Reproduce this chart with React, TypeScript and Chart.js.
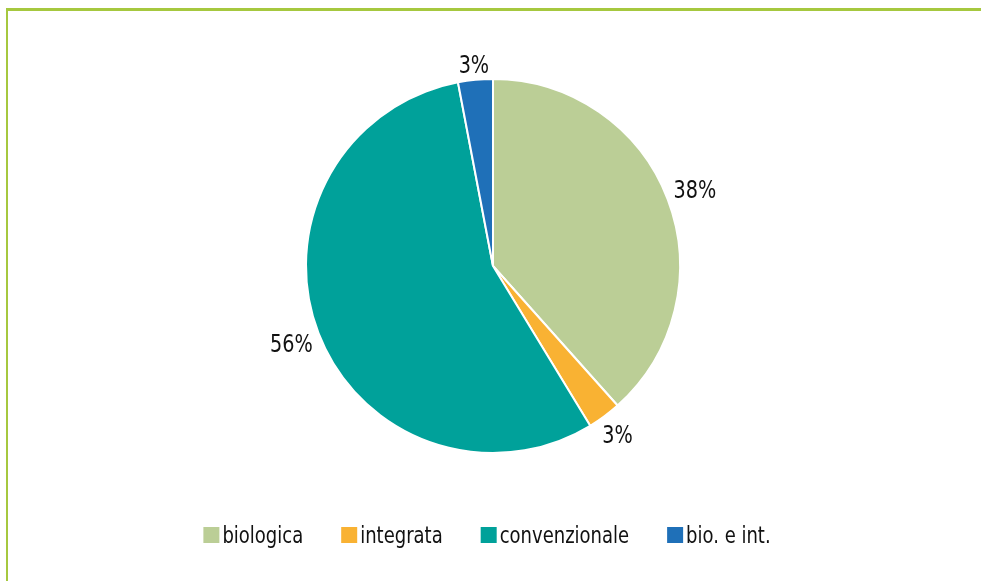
import React, { useEffect, useRef } from "react";
import { Chart, registerables } from "chart.js";

Chart.register(...registerables);

const categories = ["biologica", "integrata", "convenzionale", "bio. e int."];
const shares = [38.4, 2.9, 55.7, 3.0];
const colors = ["#BBCE96", "#F9B233", "#00A19A", "#1F70B8"];

const FONT = "'DejaVu Sans', 'Noto Sans', sans-serif";
const LABEL_SIZE = 24;
const LEGEND_SIZE = 22.5;
const TARGET_RATIO = 0.8; // glyph width relative to regular DejaVu Sans

// set the font (condensed when available) and return the horizontal scale to apply
function setFont(ctx: any, size: number): number {
  ctx.font = `${size}px ${FONT}`;
  const full = ctx.measureText("biologica 38%").width;
  try {
    ctx.fontStretch = "condensed";
  } catch (e) {
    /* ignore */
  }
  const cond = ctx.measureText("biologica 38%").width;
  return (TARGET_RATIO * full) / cond;
}

function drawText(ctx: any, text: string, x: number, y: number, sx: number) {
  ctx.save();
  ctx.translate(x, y);
  ctx.scale(sx, 1);
  ctx.fillText(text, 0, 0);
  ctx.restore();
}

const outsideLabels = {
  id: "outsideLabels",
  afterDatasetsDraw(chart: any) {
    const ctx = chart.ctx;
    const meta = chart.getDatasetMeta(0);
    const data = chart.data.datasets[0].data as number[];
    const total = data.reduce((a, b) => a + b, 0);
    ctx.save();
    const sx = setFont(ctx, LABEL_SIZE);
    ctx.fillStyle = "#111111";
    ctx.textAlign = "left";
    ctx.textBaseline = "alphabetic";
    const capH = LABEL_SIZE * 0.73;
    meta.data.forEach((arc: any, i: number) => {
      const { x, y, startAngle, endAngle, outerRadius } = arc.getProps(
        ["x", "y", "startAngle", "endAngle", "outerRadius"],
        true
      );
      const mid = (startAngle + endAngle) / 2;
      const text = Math.round((data[i] / total) * 100) + "%";
      const w = ctx.measureText(text).width * sx;
      const c = Math.cos(mid);
      const s = Math.sin(mid);
      const d = outerRadius + 6 + (Math.abs(c) * w) / 2 + (Math.abs(s) * capH) / 2;
      drawText(ctx, text, x + c * d - w / 2, y + s * d + capH / 2, sx);
    });
    ctx.restore();
  },
};

const customLegend = {
  id: "customLegend",
  afterDraw(chart: any) {
    const ctx = chart.ctx;
    const labels = chart.data.labels as string[];
    const bg = chart.data.datasets[0].backgroundColor as string[];
    const box = 16;
    const boxGap = 3;
    const itemGap = 38;
    const centerX = 487;
    const boxTop = 527;
    ctx.save();
    const sx = setFont(ctx, LEGEND_SIZE);
    ctx.textBaseline = "alphabetic";
    ctx.textAlign = "left";
    const widths = labels.map((l) => ctx.measureText(l).width * sx);
    const total =
      widths.reduce((a, w) => a + box + boxGap + w, 0) + itemGap * (labels.length - 1);
    let x = centerX - total / 2;
    labels.forEach((l, i) => {
      ctx.fillStyle = bg[i];
      ctx.fillRect(x, boxTop, box, box);
      ctx.fillStyle = "#111111";
      drawText(ctx, l, x + box + boxGap, boxTop + box, sx);
      x += box + boxGap + widths[i] + itemGap;
    });
    ctx.restore();
  },
};

export default function App() {
  const ref = useRef<HTMLCanvasElement | null>(null);
  useEffect(() => {
    if (!ref.current) return;
    const chart = new Chart(ref.current, {
      type: "pie",
      data: {
        labels: categories,
        datasets: [
          {
            data: shares,
            backgroundColor: colors,
            borderColor: "#ffffff",
            borderWidth: 2,
          },
        ],
      },
      options: {
        responsive: false,
        animation: false,
        radius: 187,
        layout: { padding: { left: 250, right: 245, top: 60, bottom: 109 } },
        plugins: {
          legend: { display: false },
          tooltip: { enabled: false },
          title: { display: false },
        },
      } as any,
      plugins: [outsideLabels, customLegend],
    });
    return () => chart.destroy();
  }, []);

  return (
    <div style={{ position: "absolute", left: 0, top: 0, width: 981, height: 581, background: "#ffffff" }}>
      <canvas ref={ref} width={981} height={581} style={{ position: "absolute", left: 0, top: 0 }} />
      <div style={{ position: "absolute", left: 6, top: 8, width: 975, height: 3, background: "#A6C83F" }} />
      <div style={{ position: "absolute", left: 6, top: 8, width: 2, height: 573, background: "#A6C83F" }} />
    </div>
  );
}
